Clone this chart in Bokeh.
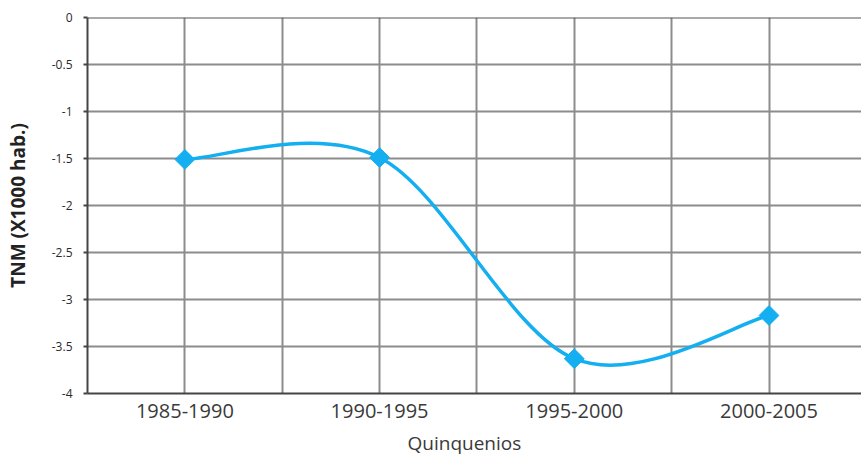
import math
from bokeh.plotting import figure
from bokeh.models import FixedTicker, Range1d, Span, Title
from bokeh.embed import file_html
from bokeh.resources import INLINE

periods = ["1985-1990", "1990-1995", "1995-2000", "2000-2005"]
tnm = [-1.51, -1.49, -3.63, -3.17]
y_ticks = [0, -0.5, -1, -1.5, -2, -2.5, -3, -3.5, -4]
y_labels = ["0", "-0.5", "-1", "-1.5", "-2", "-2.5", "-3", "-3.5", "-4"]

xs = list(range(len(periods)))

p = figure(frame_width=774, frame_height=376, output_backend="svg", toolbar_location=None,
           x_range=Range1d(-0.5, 3.475), y_range=Range1d(-4, 0),
           min_border_left=87, min_border_top=17, min_border_bottom=40, min_border_right=0)
p.background_fill_color = "white"
p.border_fill_color = "white"
p.outline_line_color = None

# grid
p.xgrid.ticker = FixedTicker(ticks=[-0.5 + 0.5 * i for i in range(9)])
p.ygrid.ticker = FixedTicker(ticks=y_ticks)
for g in (p.xgrid, p.ygrid):
    g.grid_line_color = "#8c8c8c"
    g.grid_line_width = 2
    g.grid_line_alpha = 1

p.add_layout(Span(location=0, dimension="width", line_color="#555555", line_width=2))

# axes
p.xaxis.ticker = FixedTicker(ticks=xs)
p.xaxis.major_label_overrides = {i: s for i, s in zip(xs, periods)}
p.yaxis.ticker = FixedTicker(ticks=y_ticks)
p.yaxis.major_label_overrides = {t: s for t, s in zip(y_ticks, y_labels)}

for ax in (p.xaxis, p.yaxis):
    ax.axis_line_color = "#444444"
    ax.axis_line_width = 2
    ax.minor_tick_line_color = None
    ax.major_label_text_font = "Open Sans"
    ax.axis_label_text_font = "Open Sans"

p.xaxis.major_tick_line_color = None
p.xaxis.major_tick_out = 0
p.xaxis.major_label_text_font_size = "20px"
p.xaxis.major_label_text_color = "#3a3a3a"
p.xaxis.major_label_standoff = 10

p.add_layout(Title(text="Quinquenios", align="left", offset=320, standoff=14,
                   text_font="Open Sans", text_font_size="19px",
                   text_font_style="normal", text_color="#3a3a3a"), "below")

p.yaxis.major_tick_line_color = "#444444"
p.yaxis.major_tick_line_width = 2
p.yaxis.major_tick_out = 4
p.yaxis.major_tick_in = 0
p.yaxis.major_label_text_font_size = "12px"
p.yaxis.major_label_text_color = "#2a2a2a"
p.yaxis.major_label_standoff = 11
p.yaxis.axis_label = "TNM (X1000 hab.)"
p.yaxis.axis_label_text_font_size = "19px"
p.yaxis.axis_label_text_font_style = "bold"
p.yaxis.axis_label_text_color = "#222222"
p.yaxis.axis_label_standoff = 18

# smoothed line (Excel-style Bezier through the data points)
n = len(xs)
x0, y0, x1, y1, cx0, cy0, cx1, cy1 = [], [], [], [], [], [], [], []
for i in range(n - 1):
    pa = (xs[max(i - 1, 0)], tnm[max(i - 1, 0)])
    pb = (xs[i], tnm[i])
    pc = (xs[i + 1], tnm[i + 1])
    pd = (xs[min(i + 2, n - 1)], tnm[min(i + 2, n - 1)])
    x0.append(pb[0]); y0.append(pb[1])
    x1.append(pc[0]); y1.append(pc[1])
    cx0.append(pb[0] + (pc[0] - pa[0]) / 6); cy0.append(pb[1] + (pc[1] - pa[1]) / 6)
    cx1.append(pc[0] - (pd[0] - pb[0]) / 6); cy1.append(pc[1] - (pd[1] - pb[1]) / 6)

p.bezier(x0=x0, y0=y0, x1=x1, y1=y1, cx0=cx0, cy0=cy0, cx1=cx1, cy1=cy1,
         line_color="#14aff0", line_width=3.5)
p.scatter(xs, tnm, marker="square", angle=math.pi / 4, size=14,
          fill_color="#14aff0", line_color="#14aff0")

open("out.html", "w").write(file_html(p, INLINE))
